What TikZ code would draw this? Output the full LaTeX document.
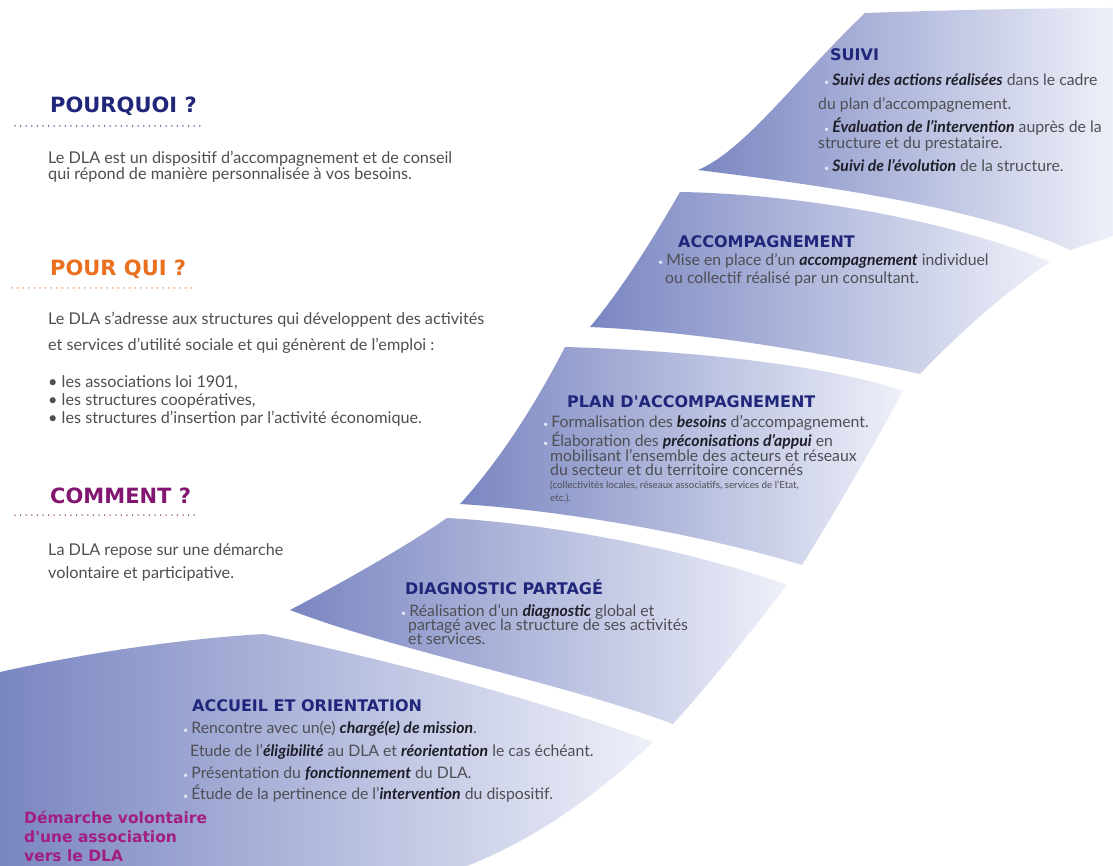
\documentclass[tikz,border=0pt]{standalone}
\usepackage{fontspec}
\setmainfont{Lato}
\newfontfamily\headfont{DejaVu Sans}
\definecolor{bandDark}{RGB}{122,134,193}
\definecolor{bandLight}{RGB}{238,240,249}
\definecolor{navyH}{RGB}{32,38,122}
\definecolor{orangeH}{RGB}{232,112,30}
\definecolor{purpleH}{RGB}{130,22,112}
\definecolor{magentaT}{RGB}{162,30,128}
\definecolor{bodyC}{RGB}{78,78,84}
\definecolor{emC}{RGB}{30,30,40}
\definecolor{dotC}{RGB}{224,228,246}
\newcommand{\emw}[1]{{\color{emC}\bfseries\itshape #1}}
\newcommand{\bdot}{{\color{dotC}\fontsize{9}{9}\selectfont\textbullet}\hspace{3pt}}
\begin{document}
\begin{tikzpicture}[x=1pt,y=-1pt,
  hd/.style={anchor=base west, inner sep=0, font=\headfont\bfseries\fontsize{21}{23}\selectfont},
  bt/.style={anchor=base west, inner sep=0, text=navyH, font=\headfont\bfseries\fontsize{16}{18}\selectfont},
  tx/.style={anchor=base west, inner sep=0, text=bodyC, font=\fontsize{15.8}{17}\selectfont},
  sm/.style={anchor=base west, inner sep=0, text=bodyC, font=\fontsize{9.8}{11}\selectfont},
  lt/.style={anchor=base west, inner sep=0, text=bodyC, font=\fontsize{16.2}{18}\selectfont},
  mg/.style={anchor=base west, inner sep=0, text=magentaT, font=\headfont\bfseries\fontsize{15.5}{17}\selectfont},
  band/.style={left color=bandDark, right color=bandLight},
  dots/.style={line width=1.5pt, line cap=round, dash pattern=on 0pt off 5.6pt}]
\fill[white] (0,0) rectangle (1113,866);
\useasboundingbox (0,0) rectangle (1113,866);

% ---------- bands ----------
% SUIVI
\shade[band] (865,13) .. controls (950,10) and (1050,8) .. (1113,8) -- (1113,236) -- (1070,250)
  .. controls (990,212) and (860,190) .. (698,170)
  .. controls (745,150) and (795,80) .. (865,13) -- cycle;
% ACCOMPAGNEMENT
\shade[band] (680,192) .. controls (800,194) and (950,220) .. (1050,262)
  .. controls (1005,292) and (955,337) .. (920,374)
  .. controls (820,352) and (700,332) .. (590,327)
  .. controls (625,285) and (655,235) .. (680,192) -- cycle;
% PLAN
\shade[band] (565,347) .. controls (700,351) and (830,366) .. (903,391)
  .. controls (870,452) and (835,512) .. (802,565)
  .. controls (700,534) and (560,510) .. (460,504)
  .. controls (500,460) and (535,405) .. (565,347) -- cycle;
% DIAGNOSTIC
\shade[band] (447,518) .. controls (560,524) and (700,553) .. (787,585)
  .. controls (750,633) and (710,683) .. (673,724)
  .. controls (560,682) and (400,652) .. (290,610)
  .. controls (345,581) and (405,547) .. (447,518) -- cycle;
% ACCUEIL
\shade[band] (0,672) .. controls (90,652) and (190,638) .. (264,634)
  .. controls (420,667) and (560,707) .. (653,742)
  .. controls (600,792) and (540,837) .. (467,866) -- (0,866) -- cycle;

% ---------- left column ----------
\node[hd, text=navyH] (q1) at (50,113) {POURQUOI ?};
\coordinate (d1a) at (15,126); \coordinate (d1b) at (203,126);
\draw[dots, navyH] (d1a) -- (d1b);
\node[lt] (p1a) at (48,164) {Le DLA est un dispositif d'accompagnement et de conseil};
\node[lt] (p1b) at (48,180) {qui répond de manière personnalisée à vos besoins.};

\node[hd, text=orangeH] (q2) at (50,276) {POUR QUI ?};
\coordinate (d2a) at (12,288); \coordinate (d2b) at (192,288);
\draw[dots, orangeH] (d2a) -- (d2b);
\node[lt] (p2a) at (48,325) {Le DLA s'adresse aux structures qui développent des activités};
\node[lt] (p2b) at (48,351) {et services d'utilité sociale et qui génèrent de l'emploi :};
\node[lt] (p2c) at (48,387) {• les associations loi 1901,};
\node[lt] (p2d) at (48,405) {• les structures coopératives,};
\node[lt] (p2e) at (48,423) {• les structures d'insertion par l'activité économique.};

\node[hd, text=purpleH] (q3) at (50,503) {COMMENT ?};
\coordinate (d3a) at (15,515); \coordinate (d3b) at (195,515);
\draw[dots, purpleH] (d3a) -- (d3b);
\node[lt] (p3a) at (48,555) {La DLA repose sur une démarche};
\node[lt] (p3b) at (48,578) {volontaire et participative.};

% ---------- SUIVI ----------
\node[bt] (s0) at (830,61) {SUIVI};
\node[tx] (s1) at (824,86) {\bdot\emw{Suivi des actions réalisées} dans le cadre};
\node[tx] (s2) at (818,110) {du plan d'accompagnement.};
\node[tx] (s3) at (824,133) {\bdot\emw{Évaluation de l'intervention} auprès de la};
\node[tx] (s4) at (818,149) {structure et du prestataire.};
\node[tx] (s5) at (824,172) {\bdot\emw{Suivi de l'évolution} de la structure.};

% ---------- ACCOMPAGNEMENT ----------
\node[bt] (a0) at (678,248) {ACCOMPAGNEMENT};
\node[tx] (a1) at (658,266) {\bdot Mise en place d'un \emw{accompagnement} individuel};
\node[tx] (a2) at (665,284) {ou collectif réalisé par un consultant.};

% ---------- PLAN ----------
\node[bt] (pl0) at (567,407) {PLAN D'ACCOMPAGNEMENT};
\node[tx] (pl1) at (543,427) {\bdot Formalisation des \emw{besoins} d'accompagnement.};
\node[tx] (pl2) at (543,446) {\bdot Élaboration des \emw{préconisations d'appui} en};
\node[tx] (pl3) at (550,461) {mobilisant l'ensemble des acteurs et réseaux};
\node[tx] (pl4) at (550,475) {du secteur et du territoire concernés};
\node[sm] (pl5) at (550,488) {(collectivités locales, réseaux associatifs, services de l'Etat,};
\node[sm] (pl6) at (550,501) {etc.).};

% ---------- DIAGNOSTIC ----------
\node[bt] (g0) at (405,594) {DIAGNOSTIC PARTAGÉ};
\node[tx] (g1) at (401,616) {\bdot Réalisation d'un \emw{diagnostic} global et};
\node[tx] (g2) at (408,630) {partagé avec la structure de ses activités};
\node[tx] (g3) at (408,644) {et services.};

% ---------- ACCUEIL ----------
\node[bt] (c0) at (192,711) {ACCUEIL ET ORIENTATION};
\node[tx] (c1) at (183,733) {\bdot Rencontre avec un(e) \emw{chargé(e) de mission}.};
\node[tx] (c2) at (190,756) {Etude de l'\emw{éligibilité} au DLA et \emw{réorientation} le cas échéant.};
\node[tx] (c3) at (183,778) {\bdot Présentation du \emw{fonctionnement} du DLA.};
\node[tx] (c4) at (183,799) {\bdot Étude de la pertinence de l'\emw{intervention} du dispositif.};

% ---------- Démarche ----------
\node[mg] (m1) at (24,823) {Démarche volontaire};
\node[mg] (m2) at (24,842) {d'une association};
\node[mg] (m3) at (24,861) {vers le DLA};
\end{tikzpicture}
\end{document}
